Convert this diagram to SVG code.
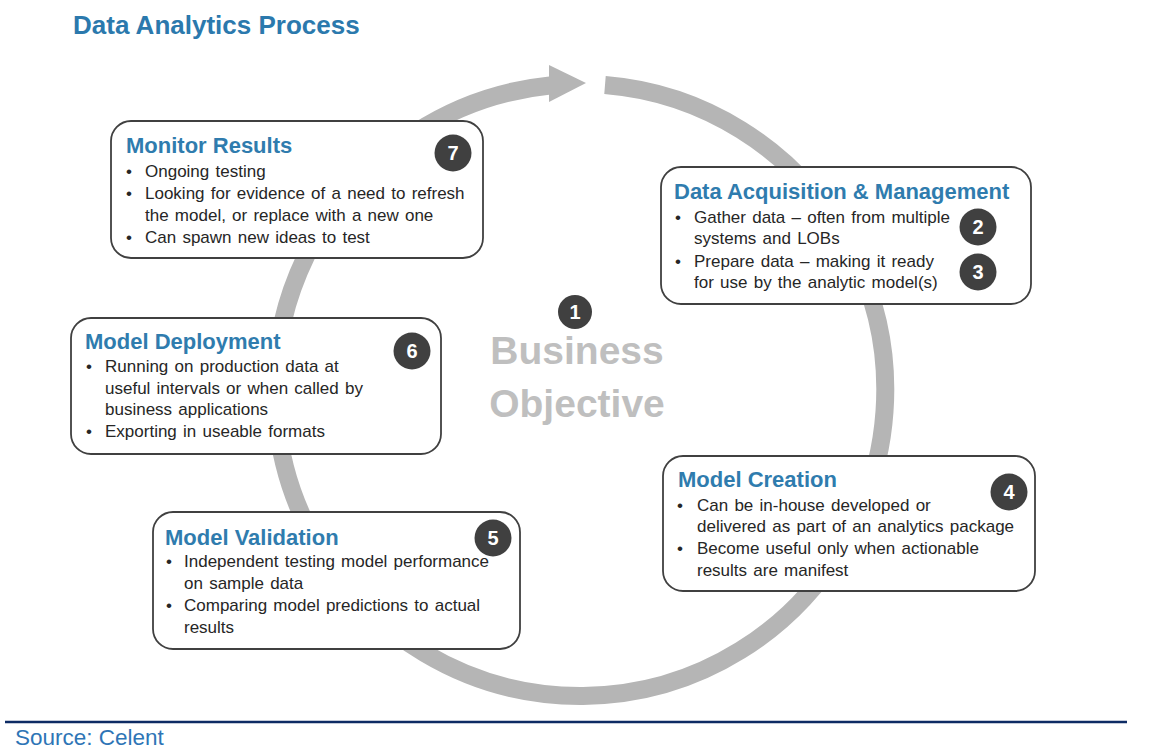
<svg xmlns="http://www.w3.org/2000/svg" width="1155" height="748" viewBox="0 0 1155 748">
<style>
.box{fill:#ffffff;stroke:#404040;stroke-width:1.8}
.ttl{font-family:"Liberation Sans",Arial,sans-serif;font-weight:bold;font-size:22px;fill:#2f7cae}
.txt{font-family:"Liberation Sans",Arial,sans-serif;font-size:17px;fill:#262626;word-spacing:1.5px}
.bdg{fill:#404040}
.num{font-family:"Liberation Sans",Arial,sans-serif;font-weight:bold;font-size:20px;fill:#ffffff;text-anchor:middle}
</style>
<rect width="1155" height="748" fill="#ffffff"/>
<text x="73" y="34" font-family="'Liberation Sans',Arial,sans-serif" font-weight="bold" font-size="26" fill="#2b79ad">Data Analytics Process</text>
<g id="connectors">
<path d="M 605 85 A 305 306 0 1 1 550 85.5" fill="none" stroke="#b5b5b5" stroke-width="18"/>
<polygon points="549,65 586,83 549,102" fill="#b5b5b5"/>
</g>
<g id="center">
<circle class="bdg" cx="575" cy="312" r="17"/>
<text class="num" x="575" y="318.5" font-size="17">1</text>
<text x="577" y="364" text-anchor="middle" font-family="'Liberation Sans',Arial,sans-serif" font-weight="bold" font-size="39" fill="#bfbfbf">Business</text>
<text x="577" y="417" text-anchor="middle" font-family="'Liberation Sans',Arial,sans-serif" font-weight="bold" font-size="39" fill="#bfbfbf">Objective</text>
</g>
<g id="monitor">
<rect class="box" x="111" y="121" width="372" height="137" rx="20"/>
<text class="ttl" x="126" y="153">Monitor Results</text>
<circle class="bdg" cx="453" cy="153" r="18.5"/>
<text class="num" x="453" y="160">7</text>
<text class="txt" x="126" y="177">•</text><text class="txt" x="145" y="177">Ongoing testing</text>
<text class="txt" x="126" y="199">•</text><text class="txt" x="145" y="199">Looking for evidence of a need to refresh</text>
<text class="txt" x="145" y="221">the model, or replace with a new one</text>
<text class="txt" x="126" y="243">•</text><text class="txt" x="145" y="243">Can spawn new ideas to test</text>
</g>
<g id="acquisition">
<rect class="box" x="661" y="167" width="370" height="137" rx="20"/>
<text class="ttl" x="674" y="199">Data Acquisition &amp; Management</text>
<circle class="bdg" cx="978" cy="227" r="18.5"/>
<text class="num" x="978" y="234">2</text>
<circle class="bdg" cx="978" cy="272" r="18.5"/>
<text class="num" x="978" y="279">3</text>
<text class="txt" x="675" y="223">•</text><text class="txt" x="694" y="223">Gather data – often from multiple</text>
<text class="txt" x="694" y="244">systems and LOBs</text>
<text class="txt" x="675" y="267">•</text><text class="txt" x="694" y="267">Prepare data – making it ready</text>
<text class="txt" x="694" y="288">for use by the analytic model(s)</text>
</g>
<g id="deployment">
<rect class="box" x="71" y="318" width="370" height="136" rx="20"/>
<text class="ttl" x="85" y="349">Model Deployment</text>
<circle class="bdg" cx="412" cy="351" r="18.5"/>
<text class="num" x="412" y="358">6</text>
<text class="txt" x="86" y="372">•</text><text class="txt" x="105" y="372">Running on production data at</text>
<text class="txt" x="105" y="394">useful intervals or when called by</text>
<text class="txt" x="105" y="415">business applications</text>
<text class="txt" x="86" y="437">•</text><text class="txt" x="105" y="437">Exporting in useable formats</text>
</g>
<g id="creation">
<rect class="box" x="663" y="456" width="372" height="135" rx="20"/>
<text class="ttl" x="678" y="487">Model Creation</text>
<circle class="bdg" cx="1009" cy="492" r="18.5"/>
<text class="num" x="1009" y="499">4</text>
<text class="txt" x="677" y="511">•</text><text class="txt" x="697" y="511">Can be in-house developed or</text>
<text class="txt" x="697" y="532">delivered as part of an analytics package</text>
<text class="txt" x="677" y="554">•</text><text class="txt" x="697" y="554">Become useful only when actionable</text>
<text class="txt" x="697" y="576">results are manifest</text>
</g>
<g id="validation">
<rect class="box" x="153" y="512" width="367" height="137" rx="20"/>
<text class="ttl" x="165" y="545">Model Validation</text>
<circle class="bdg" cx="493" cy="538" r="18.5"/>
<text class="num" x="493" y="545">5</text>
<text class="txt" x="166" y="567">•</text><text class="txt" x="184" y="567">Independent testing model performance</text>
<text class="txt" x="184" y="589">on sample data</text>
<text class="txt" x="166" y="611">•</text><text class="txt" x="184" y="611">Comparing model predictions to actual</text>
<text class="txt" x="184" y="633">results</text>
</g>
<g id="footer">
<line x1="5" y1="722" x2="1127" y2="722" stroke="#0d2b64" stroke-width="2.5"/>
<text x="15" y="745" font-family="'Liberation Sans',Arial,sans-serif" font-size="22.5" fill="#2e75b6">Source: Celent</text>
</g>
</svg>
